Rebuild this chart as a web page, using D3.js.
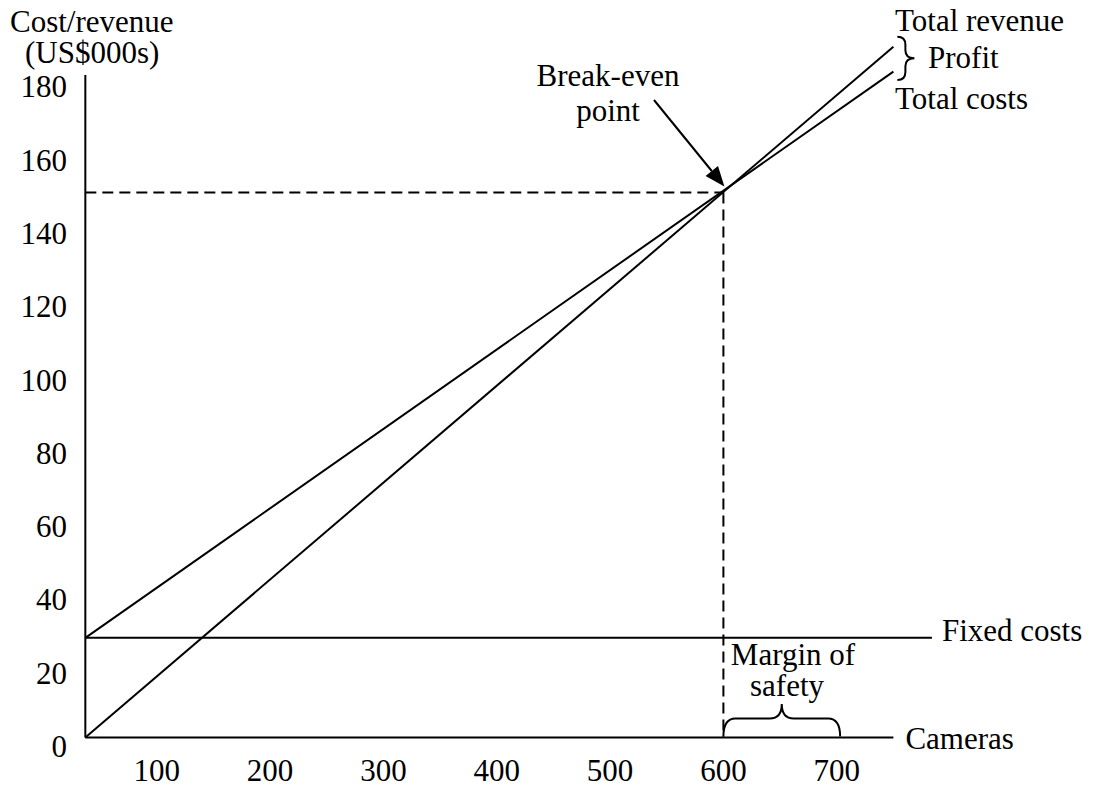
<!DOCTYPE html>
<html>
<head>
<meta charset="utf-8">
<script src="https://cdn.jsdelivr.net/npm/d3@7"></script>
<style>
  html, body { margin: 0; padding: 0; background: #fff; }
  svg { display: block; }
  text { font-family: "Liberation Serif", "Times New Roman", serif; fill: #000; }
</style>
</head>
<body>
<svg id="chart" width="1098" height="787"></svg>
<script>
// ---- data ----
const xTickValues = [100, 200, 300, 400, 500, 600, 700];
const yTickValues = [0, 20, 40, 60, 80, 100, 120, 140, 160, 180];
const axisStartCameras = 37;     // where the vertical axis sits on the camera scale
const axisEndCameras = 750;
const totalRevenue = [[37, 0], [750, 188.5]];
const totalCosts = [[37, 27.2], [750, 181.7]];
const fixedCosts = [[37, 27.2], [784, 27.2]];
const breakEven = { cameras: 600, value: 148.7 };
const marginOfSafety = [600, 703];

// ---- scales ----
const svg = d3.select("#chart");
const x = d3.scaleLinear().domain([0, 750]).range([43.4, 893.4]);
const y = d3.scaleLinear().domain([0, 180]).range([737.5, 77.8]);

const FS = 31;
const line = d3.line().x(d => x(d[0])).y(d => y(d[1]));

// axes (custom drawn, textbook style)
const x0 = x(axisStartCameras);
svg.append("line").attr("x1", x0).attr("x2", x0).attr("y1", y(0)).attr("y2", 75)
  .attr("stroke", "#000").attr("stroke-width", 2);
svg.append("line").attr("x1", x0).attr("x2", x(axisEndCameras)).attr("y1", y(0)).attr("y2", y(0))
  .attr("stroke", "#000").attr("stroke-width", 2);

// y tick labels
svg.append("g").selectAll("text").data(yTickValues).join("text")
  .attr("x", 67).attr("y", d => y(d) + 19.5)
  .attr("text-anchor", "end").attr("font-size", FS).text(d => d);

// x tick labels
svg.append("g").selectAll("text").data(xTickValues).join("text")
  .attr("x", d => x(d)).attr("y", y(0) + 43.5)
  .attr("text-anchor", "middle").attr("font-size", FS).text(d => d);

// axis titles
svg.append("text").attr("x", 10).attr("y", 31.5).attr("font-size", FS).text("Cost/revenue");
svg.append("text").attr("x", 25).attr("y", 63).attr("font-size", FS).text("(US$000s)");
svg.append("text").attr("x", x(axisEndCameras) + 12).attr("y", 749).attr("font-size", FS).text("Cameras");

// lines
[fixedCosts, totalCosts, totalRevenue].forEach(d => {
  svg.append("path").attr("d", line(d)).attr("fill", "none")
    .attr("stroke", "#000").attr("stroke-width", 2);
});

// break-even dashed guides
const bx = x(breakEven.cameras), by = y(breakEven.value);
svg.append("line").attr("x1", x0).attr("x2", bx).attr("y1", by).attr("y2", by)
  .attr("stroke", "#000").attr("stroke-width", 2).attr("stroke-dasharray", "11,6");
svg.append("line").attr("x1", bx).attr("x2", bx).attr("y1", by).attr("y2", y(0))
  .attr("stroke", "#000").attr("stroke-width", 2).attr("stroke-dasharray", "11,6");

// line labels
const tr = totalRevenue[1], tc = totalCosts[1];
svg.append("text").attr("x", 895).attr("y", 31).attr("font-size", FS).text("Total revenue");
svg.append("text").attr("x", 895).attr("y", 109).attr("font-size", FS).text("Total costs");
svg.append("text").attr("x", 928).attr("y", 68).attr("font-size", FS).text("Profit");
svg.append("text").attr("x", x(fixedCosts[1][0]) + 10).attr("y", 641).attr("font-size", FS).text("Fixed costs");

// profit brace (vertical, pointing right)
{
  const bxl = x(tr[0]) + 4, top = y(tr[1]) - 10, bot = y(tc[1]) + 8.5, mid = (top + bot) / 2;
  const xt = bxl + 8, xtip = bxl + 17, r = 8;
  const p = `M${bxl},${top} Q${xt},${top} ${xt},${top + r} L${xt},${mid - r} Q${xt},${mid} ${xtip},${mid}` +
            ` Q${xt},${mid} ${xt},${mid + r} L${xt},${bot - r} Q${xt},${bot} ${bxl},${bot}`;
  svg.append("path").attr("d", p).attr("fill", "none").attr("stroke", "#000").attr("stroke-width", 2);
}

// break-even label + arrow
svg.append("text").attr("x", 608).attr("y", 86).attr("text-anchor", "middle").attr("font-size", FS).text("Break-even");
svg.append("text").attr("x", 608).attr("y", 121).attr("text-anchor", "middle").attr("font-size", FS).text("point");
{
  const sx = 654, sy = 100, ex = bx + 1, ey = by - 6;
  const ang = Math.atan2(ey - sy, ex - sx);
  const L = 20, W = 8;
  const bxh = ex - L * Math.cos(ang), byh = ey - L * Math.sin(ang);
  svg.append("line").attr("x1", sx).attr("y1", sy).attr("x2", bxh).attr("y2", byh)
    .attr("stroke", "#000").attr("stroke-width", 2);
  const px = -Math.sin(ang) * W, py = Math.cos(ang) * W;
  svg.append("path")
    .attr("d", `M${ex},${ey} L${bxh + px},${byh + py} L${bxh - px},${byh - py} Z`)
    .attr("fill", "#000");
}

// margin of safety brace (horizontal, pointing up)
{
  const x1 = x(marginOfSafety[0]), x2 = x(marginOfSafety[1]);
  const y0 = y(0) - 1, yT = 718.5, yTip = 704, mid = (x1 + x2) / 2, r = 12;
  const p = `M${x1},${y0} Q${x1},${yT} ${x1 + r},${yT} L${mid - r},${yT} Q${mid},${yT} ${mid},${yTip}` +
            ` Q${mid},${yT} ${mid + r},${yT} L${x2 - r},${yT} Q${x2},${yT} ${x2},${y0}`;
  svg.append("path").attr("d", p).attr("fill", "none").attr("stroke", "#000").attr("stroke-width", 2);
  svg.append("text").attr("x", 793).attr("y", 665).attr("text-anchor", "middle").attr("font-size", FS).text("Margin of");
  svg.append("text").attr("x", 787).attr("y", 696).attr("text-anchor", "middle").attr("font-size", FS).text("safety");
}
</script>
</body>
</html>
